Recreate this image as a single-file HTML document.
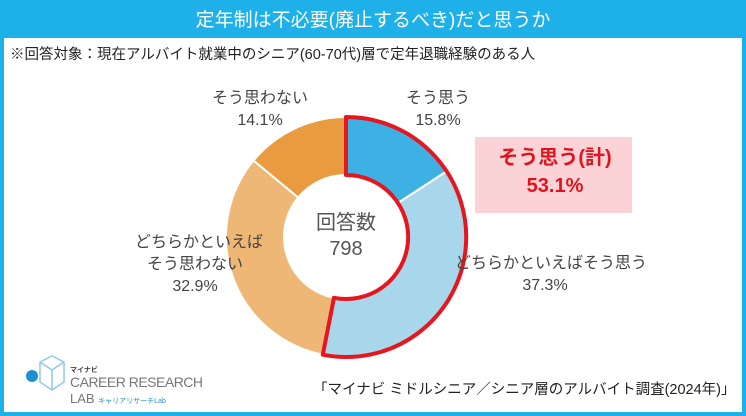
<!DOCTYPE html>
<html><head><meta charset="utf-8"><style>
body{margin:0;width:746px;height:416px;overflow:hidden;background:#fff;font-family:"Liberation Sans","Noto Sans CJK JP",sans-serif}
.frame{position:absolute;left:0;top:0;width:738px;height:408px;border:4px solid #1eb0e8;background:#fff}
.hd{position:absolute;left:0;top:0;width:738px;height:34px;background:#1eb0e8;color:#fff;font-size:19px;text-align:center;line-height:34px}
.t{position:absolute;color:#444;white-space:nowrap}
</style></head><body>
<div class="frame">
<div class="hd">定年制は不必要(廃止するべき)だと思うか</div>
</div>
<div class="t" style="left:10px;top:43px;font-size:14.5px;color:#222">※回答対象：現在アルバイト就業中のシニア(60-70代)層で定年退職経験のある人</div>
<svg width="746" height="416" style="position:absolute;left:0;top:0">
<g stroke="#fff" stroke-width="2">
<path d="M346 117 A120 120 0 0 1 446.5 171.4 L397.9 203.1 A62 62 0 0 0 346 175 Z" fill="#3db1e4"/>
<path d="M446.5 171.4 A120 120 0 0 1 322.8 354.7 L334 297.8 A62 62 0 0 0 397.9 203.1 Z" fill="#a8d7eb"/>
<path d="M322.8 354.7 A120 120 0 0 1 253.5 160.5 L298.2 197.5 A62 62 0 0 0 334 297.8 Z" fill="#efb775"/>
<path d="M253.5 160.5 A120 120 0 0 1 346 117 L346 175 A62 62 0 0 0 298.2 197.5 Z" fill="#ea9b40"/>
</g>
<path d="M346 117 A120 120 0 1 1 322.8 354.7 L334 297.8 A62 62 0 1 0 346 175 Z" fill="none" stroke="#e5161e" stroke-width="4" stroke-linejoin="round"/>
<rect x="475" y="137" width="157" height="76" fill="#fbd3d6"/>
<circle cx="32" cy="376" r="6" fill="#1e8fd0"/>
<path d="M40 362 L52 356 L64 362 L64 382 L52 390 L40 382 Z M40 362 L52 370 L64 362 M52 370 L52 390" fill="none" stroke="#8fc9e8" stroke-width="1.5"/>
</svg>
<div class="t" style="left:485px;top:144px;width:140px;text-align:center;font-size:20px;font-weight:bold;color:#e0141e;line-height:28px">そう思う(計)<br>53.1%</div>
<div class="t" style="left:383px;top:88px;width:110px;text-align:center;font-size:16px;line-height:22px">そう思う<br>15.8%</div>
<div class="t" style="left:200px;top:88px;width:120px;text-align:center;font-size:16px;line-height:22px">そう思わない<br>14.1%</div>
<div class="t" style="left:135px;top:232px;width:120px;text-align:center;font-size:16px;line-height:22px">どちらかといえば<br>そう思わない<br>32.9%</div>
<div class="t" style="left:455px;top:253px;width:180px;text-align:center;font-size:16px;line-height:22px">どちらかといえばそう思う<br>37.3%</div>
<div class="t" style="left:296px;top:210px;width:100px;text-align:center;font-size:20px;line-height:26px;color:#555">回答数<br>798</div>
<div class="t" style="left:70px;top:365px;font-size:7px;font-weight:bold">マイナビ</div>
<div class="t" style="left:70px;top:374px;font-size:14px;color:#777;letter-spacing:-0.5px">CAREER RESEARCH</div>
<div class="t" style="left:70px;top:391px;font-size:13px;color:#777">LAB <span style="font-size:7px;color:#1e8fd0">キャリアリサーチLab</span></div>
<div class="t" style="left:313px;top:378px;font-size:14.5px;color:#222">「マイナビ ミドルシニア／シニア層のアルバイト調査(2024年)」</div>
</body></html>
